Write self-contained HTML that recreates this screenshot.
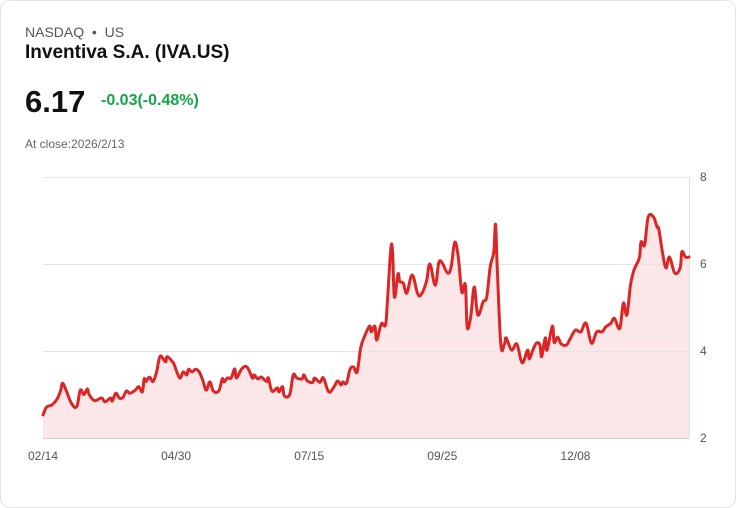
<!DOCTYPE html>
<html><head><meta charset="utf-8"><style>
body{margin:0;background:#fff;font-family:"Liberation Sans",sans-serif;}
.card{position:absolute;left:0;top:0;width:734px;height:506px;border:1px solid #e3e5e8;border-radius:10px;background:#fff;}
.t{position:absolute;white-space:nowrap;}
</style></head><body>
<div class="card">
<div class="t" style="left:24px;top:23px;font-size:14px;color:#555;">NASDAQ &nbsp;•&nbsp; US</div>
<div class="t" style="left:24px;top:41px;font-size:19px;font-weight:bold;color:#111;">Inventiva S.A. (IVA.US)</div>
<div class="t" style="left:24px;top:83px;font-size:31px;font-weight:bold;color:#111;">6.17</div>
<div class="t" style="left:100px;top:91px;font-size:16px;font-weight:bold;color:#16a34a;">-0.03(-0.48%)</div>
<div class="t" style="left:24px;top:136px;font-size:12px;color:#666;">At close:2026/2/13</div>
<svg id="chart" width="736" height="508" style="position:absolute;left:-1px;top:-1px"></svg>
</div>
<script>
const days=[0,2,5,8,10,11,13,16,19,21,23,25,26,29,33,35,38,39,41,43,45,47,49,52,54,56,57,58,60,62,64,66,69,70,73,74,77,79,81,82,84,86,88,90,92,94,96,99,101,102,104,106,108,109,112,115,118,119,121,123,126,127,129,132,133,135,136,139,141,143,146,147,149,152,153,156,158,161,164,166,168,169,171,173,175,177,179,181,184,185,187,188,190,191,193,194,196,197,198,200,201,203,205,208,211,213,216,218,221,223,225,228,230,232,234,236,238,239,241,243,245,248,250,252,254,255,256,258,260,261,264,267,270,273,274,276,278,280,281,283,284,287,288,290,292,295,297,300,303,306,309,312,315,317,320,322,325,327,329,331,333,336,337,339,341,344,346,347,349,351,353,356,359,360,362,364];
const prices=[2.53,2.71,2.76,2.9,3.1,3.26,3.1,2.8,2.72,3.1,3.0,3.13,3.0,2.86,2.92,2.83,2.92,2.85,3.03,2.92,2.93,3.08,3.03,3.1,3.18,3.06,3.36,3.3,3.4,3.3,3.52,3.88,3.75,3.87,3.75,3.68,3.38,3.52,3.45,3.58,3.52,3.58,3.52,3.33,3.1,3.29,3.08,3.08,3.36,3.29,3.38,3.38,3.59,3.38,3.59,3.63,3.38,3.45,3.36,3.4,3.3,3.38,3.08,3.15,3.06,3.18,2.97,3.0,3.45,3.38,3.36,3.45,3.31,3.28,3.38,3.28,3.38,3.06,3.18,3.31,3.22,3.29,3.26,3.58,3.63,3.52,4.07,4.32,4.57,4.44,4.57,4.25,4.55,4.64,4.6,5.1,6.35,6.25,5.24,5.77,5.6,5.56,5.33,5.75,5.33,5.29,5.59,6.0,5.51,6.03,6.02,5.79,5.94,6.5,6.16,5.36,5.52,4.55,4.79,5.47,4.83,5.13,5.24,5.94,6.28,6.91,5.86,4.14,4.16,4.3,4.02,4.16,3.73,4.02,3.82,4.02,4.18,4.14,3.87,4.3,4.02,4.57,4.2,4.32,4.16,4.14,4.28,4.48,4.44,4.64,4.18,4.44,4.44,4.55,4.64,4.75,4.52,5.1,4.83,5.51,5.86,6.14,6.51,6.44,7.08,7.08,6.85,6.8,6.28,5.91,6.16,5.79,5.91,6.28,6.16,6.16];
const yTicks=[2,4,6,8];
const xTickDays=[0,75,150,225,300];
const xTickLabels=['02/14','04/30','07/15','09/25','12/08'];
const NS='http://www.w3.org/2000/svg';
const svg=document.getElementById('chart');
const L=43,R=689,T=177,B=438;
const xs=d=>L+d/364*(R-L);
const ys=v=>B-(v-2)/6*(B-T);
function mk(tag,attrs){const e=document.createElementNS(NS,tag);for(const k in attrs)e.setAttribute(k,attrs[k]);svg.appendChild(e);return e;}
yTicks.forEach(v=>{
 const g=mk('line',{x1:L,x2:R,y1:ys(v)+0.5,y2:ys(v)+0.5,stroke:v===2?'#cfcfcf':'#e6e6e6','stroke-width':1});
 
 
 const t=mk('text',{x:R+11,y:ys(v)+4,'font-size':12,fill:'#555','font-family':'Liberation Sans, sans-serif'});
 t.textContent=v;
 
 
});
const ax=mk('line',{x1:R+0.5,x2:R+0.5,y1:T,y2:B,stroke:'#e0e0e0','stroke-width':1});


xTickDays.forEach((d,i)=>{
 const t=mk('text',{x:xs(d),y:460,'font-size':12,fill:'#555','text-anchor':'middle','font-family':'Liberation Sans, sans-serif'});
 t.textContent=xTickLabels[i];
 
 
});
const P=days.map((d,i)=>[xs(d),ys(prices[i])]);
let dstr='M'+P[0][0]+','+P[0][1];
for(let i=0;i<P.length-1;i++){
 const p0=P[Math.max(0,i-1)],p1=P[i],p2=P[i+1],p3=P[Math.min(P.length-1,i+2)];
 const k=0.18;
 const c1=[p1[0]+(p2[0]-p0[0])*k,p1[1]+(p2[1]-p0[1])*k];
 const c2=[p2[0]-(p3[0]-p1[0])*k,p2[1]-(p3[1]-p1[1])*k];
 dstr+=' C'+c1[0]+','+c1[1]+' '+c2[0]+','+c2[1]+' '+p2[0]+','+p2[1];
}
const area=mk('path',{d:dstr+' L'+P[P.length-1][0]+','+B+' L'+P[0][0]+','+B+' Z',fill:'#fbe7e7',stroke:'none'});


svg.insertBefore(area,svg.firstChild);
const line=mk('path',{d:dstr,fill:'none',stroke:'#dc2626','stroke-width':3,'stroke-linejoin':'round','stroke-linecap':'round'});


</script>
</body></html>
